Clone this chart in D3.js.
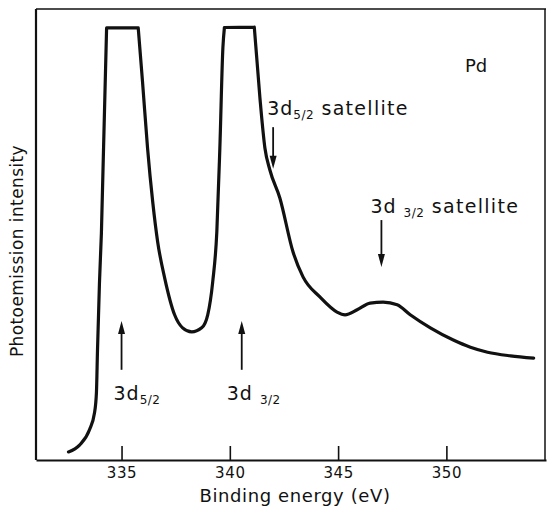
<!DOCTYPE html>
<html>
<head>
<meta charset="utf-8">
<script src="https://cdn.jsdelivr.net/npm/d3@7"></script>
<style>
  body { margin: 0; background: #fff; }
  svg text { font-family: "DejaVu Sans", sans-serif; fill: #111; }
</style>
</head>
<body>
<div id="chart"></div>
<script>
// spectrum: binding energy (eV) and intensity (arb. units, 0-100)
const energy = [332.55, 333.06, 333.52, 333.75, 333.84, 333.89, 333.98, 334.07, 334.31,
  335.77, 335.97, 336.20, 336.44, 336.67, 336.99, 337.45, 337.82, 338.24, 338.70, 338.98,
  339.21, 339.40, 339.54, 339.68, 339.75,
  341.13, 341.39, 341.62, 341.85, 342.31, 342.92, 343.38, 344.17,
  344.95, 345.32, 345.88, 346.48, 347.08, 347.73, 348.33, 349.26, 350.32, 351.11, 351.90,
  352.96, 354.03];
const intensity = [1.8, 3.3, 6.7, 10.4, 14.9, 24.4, 39.2, 50.3, 95.8,
  95.8, 83.8, 69.2, 57.2, 48.3, 40.4, 32.2, 29.3, 28.4, 29.3, 32.2,
  39.5, 50.6, 69.2, 91.4, 95.9,
  96.0, 80.3, 69.2, 64.3, 58.1, 46.1, 40.6, 36.1,
  32.8, 32.2, 33.3, 34.8, 35.0, 34.4, 32.2, 29.3, 26.6, 25.0, 23.9,
  23.1, 22.6];
// the recorder saturates: corners of the clipped peak tops
const clipCorners = [334.31, 335.77, 339.75, 341.13];

const xTicks = [335, 340, 345, 350];

// peak markers: label, subscript, energy
const mainPeaks = [["3d", "5/2", 335.0], ["3d ", "3/2", 340.55]];
const satellites = [["3d", "5/2", 342.0, " satellite"], ["3d ", "3/2", 347.0, " satellite"]];

const W = 547, H = 509;
const frame = { left: 36, right: 546, top: 9, bottom: 460 };

const svg = d3.select("#chart").append("svg")
  .attr("width", W).attr("height", H);

const x = d3.scaleLinear().domain([331.05, 354.6]).range([frame.left, frame.right]);
const y = d3.scaleLinear().domain([0, 100]).range([frame.bottom, frame.top]);

// frame
svg.append("line").attr("x1", frame.left).attr("x2", frame.right)
  .attr("y1", frame.top).attr("y2", frame.top)
  .attr("stroke", "#111").attr("stroke-width", 1.5);
svg.append("line").attr("x1", frame.right - 1).attr("x2", frame.right - 1)
  .attr("y1", frame.top).attr("y2", frame.bottom)
  .attr("stroke", "#111").attr("stroke-width", 1.5);
svg.append("line").attr("x1", frame.left).attr("x2", frame.left)
  .attr("y1", frame.top).attr("y2", frame.bottom)
  .attr("stroke", "#111").attr("stroke-width", 2.2);

const xAxis = svg.append("g")
  .attr("transform", `translate(0,${frame.bottom})`)
  .call(d3.axisBottom(x).tickValues(xTicks).tickSizeInner(-14).tickSizeOuter(0).tickPadding(7));
xAxis.select(".domain").attr("stroke", "#111").attr("stroke-width", 2.2);
xAxis.selectAll(".tick line").attr("stroke", "#111").attr("stroke-width", 1.6);
xAxis.selectAll(".tick text")
  .style("font-family", "'DejaVu Sans', sans-serif")
  .style("font-size", "15px").style("letter-spacing", "0.6px").attr("fill", "#111");

svg.append("text")
  .attr("x", 295).attr("y", 502)
  .attr("text-anchor", "middle")
  .style("font-size", "18px").style("letter-spacing", "0.6px")
  .text("Binding energy (eV)");

svg.append("text")
  .attr("transform", "rotate(-90)")
  .attr("x", -251).attr("y", 23)
  .attr("text-anchor", "middle")
  .style("font-size", "17px").style("letter-spacing", "0.4px")
  .text("Photoemission intensity");

// spectrum line: smooth pieces, split at the sharp corners of the clipped tops
const pts = energy.map((e, i) => [e, intensity[i]]);
const pieces = [];
let cur = [];
pts.forEach(p => {
  cur.push(p);
  if (clipCorners.includes(p[0])) { pieces.push(cur); cur = [p]; }
});
pieces.push(cur);

const line = d3.line().x(d => x(d[0])).y(d => y(d[1])).curve(d3.curveMonotoneX);
svg.append("path")
  .attr("fill", "none")
  .attr("stroke", "#111")
  .attr("stroke-width", 3.2)
  .attr("stroke-linejoin", "round")
  .attr("stroke-linecap", "round")
  .attr("d", pieces.map(pc => line(pc)).join(""));

function arrow(xp, yFrom, yTo) {
  const dir = yTo < yFrom ? -1 : 1;
  svg.append("line")
    .attr("x1", xp).attr("x2", xp)
    .attr("y1", yFrom).attr("y2", yTo - dir * 8)
    .attr("stroke", "#111").attr("stroke-width", 1.8);
  svg.append("path")
    .attr("d", `M${xp - 3.5},${yTo - dir * 13} L${xp + 3.5},${yTo - dir * 13} L${xp},${yTo} Z`)
    .attr("fill", "#111");
}

function label(xp, yp, main, sub, rest) {
  const t = svg.append("text").attr("x", xp).attr("y", yp)
    .style("font-size", "19px").style("letter-spacing", "1px");
  t.append("tspan").text(main);
  t.append("tspan").attr("dy", 4).style("font-size", "12px").style("letter-spacing", "0.5px").text(sub);
  if (rest) t.append("tspan").attr("dy", -4).style("font-size", "19px").style("letter-spacing", "1.3px").text(rest);
}

// main peaks: arrows pointing up, labels below
mainPeaks.forEach(([m, s, e]) => {
  arrow(x(e), y(20), y(30.8));
  label(x(e) - (m.length > 2 ? 15 : 8), 400, m, s);
});

// satellites: arrows pointing down, labels above
satellites.forEach(([m, s, e, rest], i) => {
  const ends = i === 0 ? [73.8, 64.6] : [53.2, 42.8];
  arrow(x(e), y(ends[0]), y(ends[1]));
  label(x(e) - (i === 0 ? 6 : 11), i === 0 ? 115 : 213, m, s, rest);
});

svg.append("text")
  .attr("x", 465).attr("y", 72)
  .style("font-size", "18px")
  .text("Pd");
</script>
</body>
</html>
